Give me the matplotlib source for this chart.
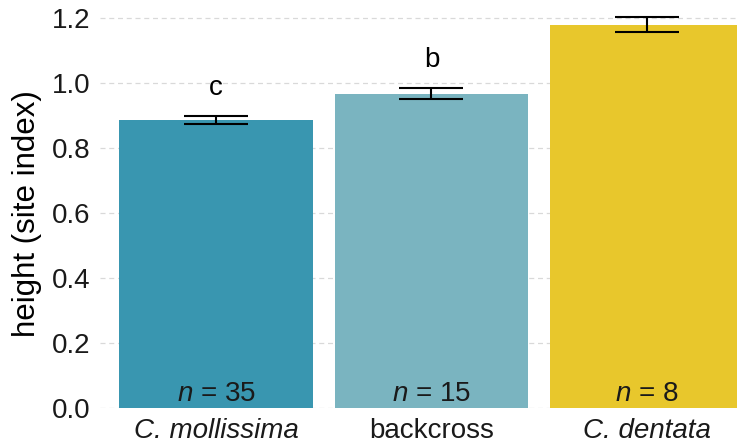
import matplotlib.pyplot as plt

plt.rcParams['font.family'] = ['Liberation Sans', 'DejaVu Sans']
plt.rcParams['mathtext.fontset'] = 'custom'
plt.rcParams['mathtext.rm'] = 'Liberation Sans'
plt.rcParams['mathtext.it'] = 'Liberation Sans:italic'

# mean height per group, with standard error
groups = ['C. mollissima', 'backcross', 'C. dentata']
italic = [True, False, True]
heights = [0.886, 0.967, 1.179]
se = [0.012, 0.017, 0.023]
n_trees = [35, 15, 8]
letters = ['c', 'b', '']
colors = ['#3996B0', '#7AB4C0', '#E8C72C']

fig = plt.figure(figsize=(7.37, 4.44), dpi=100)
ax = fig.add_axes([100 / 737, 36 / 444, 637 / 737, 408 / 444])

x = list(range(len(groups)))
ax.bar(x, heights, width=0.9, color=colors, zorder=2)
ax.errorbar(x, heights, yerr=se, fmt='none', ecolor='black', elinewidth=1.5,
            capsize=23, capthick=1.5, zorder=3)

for i in x:
    if letters[i]:
        ax.text(i, heights[i] + se[i] + 0.087, letters[i], ha='center', va='center',
                fontsize=20)
    ax.text(i, 0.044, r'$n$ = %d' % n_trees[i], ha='center', va='center',
            fontsize=20, color='#1a1a1a')

ax.set_xlim(-0.54, 2.42)
ax.set_ylim(0, 1.255)
ax.set_yticks([0, 0.2, 0.4, 0.6, 0.8, 1.0, 1.2])
ax.set_yticklabels(['0.0', '0.2', '0.4', '0.6', '0.8', '1.0', '1.2'])
ax.set_xticks(x)
ax.set_xticklabels(groups)
for lab, it in zip(ax.get_xticklabels(), italic):
    if it:
        lab.set_fontstyle('italic')
ax.tick_params(axis='both', length=0, labelsize=20, colors='#1a1a1a')
ax.tick_params(axis='x', pad=7)
ax.tick_params(axis='y', pad=7)
ax.set_ylabel('height (site index)', fontsize=22.5)
ax.yaxis.set_label_coords(-0.091, 0.477)

ax.grid(axis='y', linestyle=(0, (4, 3)), color='#d9d9d9', linewidth=0.9, zorder=0)
ax.set_axisbelow(True)
for s in ax.spines.values():
    s.set_visible(False)

fig.savefig('out.png', dpi=100)
